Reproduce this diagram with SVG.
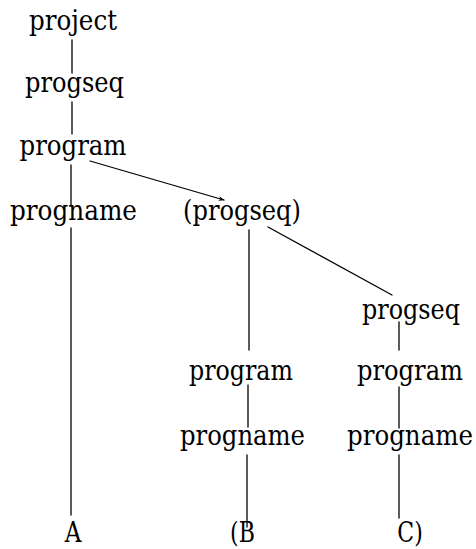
<svg xmlns="http://www.w3.org/2000/svg" width="476" height="549" viewBox="0 0 476 549">
<style>
.t{font-family:"DejaVu Serif","Liberation Serif",serif;font-size:21px;fill:#000;text-anchor:middle}
.c{stroke:#000;stroke-width:1.3;fill:none;stroke-linecap:round}
</style>
<defs>
<marker id="ah" viewBox="0 0 10 10" refX="9" refY="5" markerWidth="6" markerHeight="6" orient="auto" markerUnits="userSpaceOnUse">
<path d="M0,1 L10,5 L0,9 L3,5 Z" fill="#000"/>
</marker>
</defs>
<rect width="476" height="549" fill="#fff"/>
<g id="connectors">
<line class="c" x1="72" y1="40" x2="72" y2="73"/>
<line class="c" x1="72" y1="102" x2="72" y2="134"/>
<line class="c" x1="71" y1="165" x2="71" y2="205"/>
<line class="c" x1="90" y1="161" x2="224" y2="200" marker-end="url(#ah)"/>
<line class="c" x1="71" y1="228" x2="71" y2="515"/>
<line class="c" x1="249" y1="230" x2="249" y2="350"/>
<line class="c" x1="268" y1="227" x2="392" y2="295"/>
<line class="c" x1="399" y1="322" x2="399" y2="350"/>
<line class="c" x1="248" y1="385" x2="248" y2="427"/>
<line class="c" x1="399" y1="387" x2="399" y2="428"/>
<line class="c" x1="247" y1="455" x2="247" y2="527"/>
<line class="c" x1="399" y1="455" x2="399" y2="518"/>
</g>
<g id="n-project"><text class="t" transform="translate(73,30) scale(1,1.3)" textLength="88" lengthAdjust="spacingAndGlyphs">project</text></g>
<g id="n-progseq1"><text class="t" transform="translate(74.5,92) scale(1,1.3)" textLength="99" lengthAdjust="spacingAndGlyphs">progseq</text></g>
<g id="n-program1"><text class="t" transform="translate(73,155) scale(1,1.3)" textLength="107" lengthAdjust="spacingAndGlyphs">program</text></g>
<g id="n-progname1"><text class="t" transform="translate(73.5,220) scale(1,1.3)" textLength="127" lengthAdjust="spacingAndGlyphs">progname</text></g>
<g id="n-progseq2"><text class="t" transform="translate(242,220) scale(1,1.3)" textLength="118" lengthAdjust="spacingAndGlyphs">(progseq)</text></g>
<g id="n-progseq3"><text class="t" transform="translate(411,319) scale(1,1.3)" textLength="98" lengthAdjust="spacingAndGlyphs">progseq</text></g>
<g id="n-program2"><text class="t" transform="translate(241,380) scale(1,1.3)" textLength="104" lengthAdjust="spacingAndGlyphs">program</text></g>
<g id="n-program3"><text class="t" transform="translate(410,380) scale(1,1.3)" textLength="106" lengthAdjust="spacingAndGlyphs">program</text></g>
<g id="n-progname2"><text class="t" transform="translate(242.5,445) scale(1,1.3)" textLength="125" lengthAdjust="spacingAndGlyphs">progname</text></g>
<g id="n-progname3"><text class="t" transform="translate(410,445) scale(1,1.3)" textLength="126" lengthAdjust="spacingAndGlyphs">progname</text></g>
<g id="n-A"><text class="t" transform="translate(73,542) scale(1.1,1.35)">A</text></g>
<g id="n-B"><text class="t" transform="translate(242.5,542) scale(1.05,1.35)">(B</text></g>
<g id="n-C"><text class="t" transform="translate(410,542) scale(1.05,1.35)">C)</text></g>
</svg>
